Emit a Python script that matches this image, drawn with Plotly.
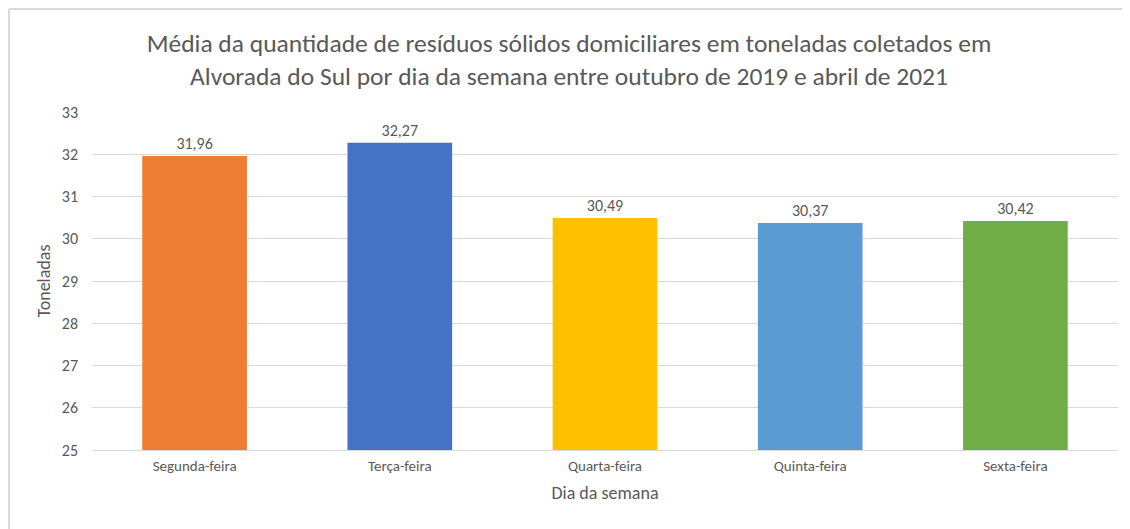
import plotly.graph_objects as go

dias = ["Segunda-feira", "Terça-feira", "Quarta-feira", "Quinta-feira", "Sexta-feira"]
toneladas = [31.96, 32.27, 30.49, 30.37, 30.42]
rotulos = ["31,96", "32,27", "30,49", "30,37", "30,42"]
cores = ["#ED7D31", "#4472C4", "#FFC000", "#5B9BD5", "#70AD47"]
yticks = [25, 26, 27, 28, 29, 30, 31, 32, 33]

# page has an 8px body margin, so the figure is drawn from (8, 8)
W, H = 1122, 521
L, R, T, B = 84, 12, 104, 79
pw, ph = W - L - R, H - T - B

font_fam = "Calibri, Carlito, Lato, sans-serif"
gray = "#595959"

fig = go.Figure(go.Bar(
    x=dias, y=toneladas, marker_color=cores, marker_line_width=0,
    text=rotulos, textposition="outside", cliponaxis=False,
    textfont=dict(size=16, color=gray, family=font_fam),
))

fig.update_layout(
    width=W, height=H,
    margin=dict(l=L, r=R, t=T, b=B, autoexpand=False),
    paper_bgcolor="white", plot_bgcolor="white",
    bargap=0.49,
    showlegend=False,
    font=dict(family=font_fam, color=gray),
    title=dict(
        text="Média da quantidade de resíduos sólidos domiciliares em toneladas coletados em<br>Alvorada do Sul por dia da semana entre outubro de 2019 e abril de 2021",
        x=0.5, xref="container", xanchor="center",
        y=1 - 44 / H, yref="container", yanchor="middle",
        font=dict(size=25.5, color=gray, family=font_fam),
    ),
    yaxis=dict(
        range=[25, 33], tickvals=yticks, showgrid=True, gridcolor="#D9D9D9", gridwidth=1,
        zeroline=False, showline=False, ticks="", ticklabelstandoff=13,
        tickfont=dict(size=16, color=gray),
        title=dict(text="Toneladas", font=dict(size=18, color=gray), standoff=6),
    ),
    xaxis=dict(
        showline=True, linecolor="#D9D9D9", linewidth=1, ticks="",
        tickfont=dict(size=15, color=gray), ticklabelstandoff=2,
        title=dict(text="Dia da semana", font=dict(size=18, color=gray), standoff=12),
    ),
)

# chart frame (top and left edges visible)
y_top = 1 + (T - 1) / ph
x_left = (1 - L) / pw
fig.add_shape(type="line", xref="paper", yref="paper", x0=x_left, x1=1 + R / pw + 0.01,
              y0=y_top, y1=y_top, line=dict(color="#D9D9D9", width=2))
fig.add_shape(type="line", xref="paper", yref="paper", x0=x_left, x1=x_left,
              y0=y_top, y1=-B / ph - 0.01, line=dict(color="#D9D9D9", width=2))

fig.write_html("out.html")
